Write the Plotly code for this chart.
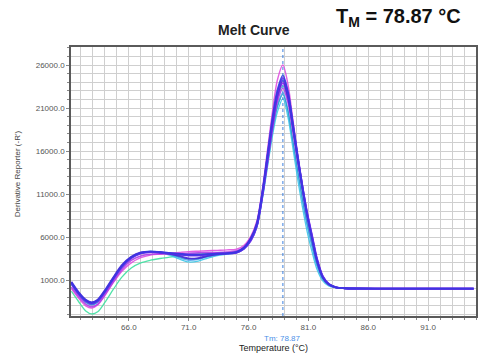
import plotly.graph_objects as go

# Temperature samples (°C)
temps = [61.2, 61.8, 62.4, 62.9, 63.4, 64.0, 64.7, 65.4, 66.2, 67.0, 67.8, 68.6, 69.4, 70.2,
         71.0, 71.8, 72.6, 73.4, 74.2, 75.0, 75.6, 76.2, 76.7, 77.2, 77.6, 78.0, 78.4, 78.87,
         79.3, 79.7, 80.1, 80.5, 80.9, 81.3, 81.7, 82.2, 82.7, 83.3, 84.0, 88.0, 94.8]

# Derivative reporter (-R') per well
green = [-300, -1500, -2600, -2950, -2700, -1600, -100, 1300, 2400, 3000, 3300, 3500, 3650, 3800,
         3950, 4050, 4100, 4100, 4150, 4300, 4700, 5700, 7300, 11200, 15000, 18800, 22000, 23600,
         21900, 18600, 15000, 11600, 8500, 5900, 3400, 1350, 500, 150, 50, 0, 0]
cyan = [500, -700, -1600, -1900, -1600, -500, 1000, 2400, 3500, 4100, 4300, 4200, 3900, 3450,
        3100, 3200, 3550, 3850, 4000, 4150, 4600, 5600, 7200, 10800, 14300, 17800, 20500, 22100,
        19900, 16400, 12800, 9500, 6600, 4300, 2300, 900, 300, 100, 30, 0, 0]
sky = [600, -600, -1500, -1800, -1500, -400, 1100, 2500, 3600, 4200, 4350, 4250, 4000, 3600,
       3300, 3400, 3700, 3900, 4050, 4200, 4650, 5700, 7300, 11100, 14800, 18500, 21300, 22800,
       20700, 17200, 13700, 10300, 7300, 4900, 2700, 1100, 400, 120, 40, 0, 0]
teal = [550, -650, -1550, -1850, -1550, -450, 1050, 2450, 3550, 4150, 4300, 4200, 4000, 3700,
        3450, 3500, 3750, 3950, 4050, 4200, 4600, 5600, 7200, 10900, 14600, 18300, 21100, 22600,
        20600, 17200, 13800, 10500, 7600, 5200, 2900, 1150, 420, 130, 40, 0, 0]
magenta = [0, -1100, -2000, -2250, -1900, -800, 700, 2000, 3000, 3600, 3900, 4000, 4100, 4200,
           4300, 4350, 4400, 4450, 4500, 4600, 5000, 6100, 7900, 12000, 16300, 20600, 24200, 26000,
           23700, 19700, 15600, 11800, 8500, 5800, 3300, 1300, 500, 150, 50, 0, 0]
orchid = [200, -900, -1800, -2100, -1800, -700, 800, 2200, 3300, 3800, 4000, 4050, 4050, 4050,
          4100, 4150, 4200, 4200, 4250, 4400, 4800, 5800, 7400, 11200, 14900, 18600, 21700, 23300,
          21600, 18300, 14800, 11500, 8400, 5900, 3400, 1350, 500, 150, 50, 0, 0]
purple = [650, -550, -1400, -1700, -1400, -350, 1150, 2550, 3600, 4100, 4250, 4200, 4100, 4000,
          3900, 3900, 4000, 4050, 4100, 4200, 4600, 5600, 7300, 11200, 15100, 19000, 22200, 23900,
          22200, 18900, 15300, 11900, 8800, 6200, 3600, 1450, 550, 150, 50, 0, 0]
indigo = [800, -400, -1300, -1600, -1300, -200, 1300, 2700, 3700, 4200, 4300, 4200, 4050, 3800,
          3500, 3550, 3800, 4000, 4100, 4250, 4750, 5900, 7600, 11500, 15400, 19300, 22500, 24200,
          22300, 18900, 15200, 11800, 8600, 6000, 3400, 1350, 500, 150, 50, 0, 0]
violet = [600, -600, -1450, -1750, -1450, -400, 1100, 2500, 3550, 4100, 4250, 4200, 4100, 4000,
          3850, 3850, 3950, 4050, 4100, 4200, 4650, 5700, 7400, 11400, 15500, 19500, 22700, 24500,
          22700, 19200, 15500, 11900, 8700, 6100, 3500, 1400, 550, 150, 50, 0, 0]
blue = [700, -500, -1350, -1650, -1350, -300, 1200, 2600, 3650, 4150, 4300, 4250, 4150, 4050,
        3950, 3950, 4000, 4050, 4100, 4250, 4700, 5800, 7500, 11600, 15700, 19800, 23000, 24800,
        22800, 19100, 15300, 11700, 8400, 5800, 3300, 1300, 500, 150, 50, 0, 0]

series = [
    (green, "#3ee0a0", 1.3),
    (cyan, "#3cc8e8", 1.3),
    (sky, "#5aa8f0", 1.3),
    (teal, "#2aa0d0", 1.3),
    (magenta, "#e050e0", 1.4),
    (orchid, "#b040e8", 1.6),
    (purple, "#8a2cf0", 1.9),
    (indigo, "#4a22d8", 1.9),
    (violet, "#6a2ef0", 1.9),
    (blue, "#3838e0", 1.9),
]

tm = 78.87
x_ticks = [66, 71, 76, 81, 86, 91]
y_ticks = [1000, 6000, 11000, 16000, 21000, 26000]

fig = go.Figure()
for vals, col, w in series:
    fig.add_trace(go.Scatter(x=temps, y=vals, mode="lines",
                             line=dict(color=col, width=w, shape="spline", smoothing=0.8),
                             opacity=0.9, showlegend=False, hoverinfo="skip"))

fig.add_shape(type="line", xref="x", yref="paper", x0=tm, x1=tm, y0=0, y1=1,
              line=dict(color="#3a7fe0", width=1, dash="dot"))

grid_col = "#cfcfcf"
tickfont = dict(family="Liberation Sans, Arial", size=8, color="#555")
fig.update_xaxes(range=[61.17, 95.0], tickvals=x_ticks, tickformat=".1f",
                 showgrid=True, gridcolor=grid_col, gridwidth=1.2,
                 minor=dict(dtick=1, tick0=61, showgrid=True, gridcolor=grid_col, gridwidth=1.2,
                            ticks="outside", ticklen=2, tickcolor="#888"),
                 ticks="outside", ticklen=3, tickcolor="#888",
                 showline=True, linecolor="#5a5a5a", linewidth=1.5, mirror=True,
                 zeroline=False, tickfont=tickfont)
fig.update_yaxes(range=[-3186, 28100], tickvals=y_ticks, tickformat=".1f",
                 showgrid=True, gridcolor=grid_col, gridwidth=1.2,
                 minor=dict(dtick=1000, tick0=0, showgrid=True, gridcolor=grid_col, gridwidth=1.2,
                            ticks="outside", ticklen=2, tickcolor="#888"),
                 ticks="outside", ticklen=3, tickcolor="#888",
                 showline=True, linecolor="#5a5a5a", linewidth=1.5, mirror=True,
                 zeroline=False, tickfont=tickfont)

fig.add_annotation(text="<b>Melt Curve</b>", xref="paper", yref="paper",
                   x=(255 - 71) / 407, y=1 + (47 - 30) / 269, showarrow=False,
                   font=dict(family="Liberation Sans, Arial", size=14, color="#222"),
                   xanchor="center", yanchor="middle")
fig.add_annotation(text="<b>T<sub>M</sub> = 78.87 °C</b>", xref="paper", yref="paper",
                   x=(465 - 71) / 407, y=1 + (47 - 17) / 269, showarrow=False,
                   font=dict(family="Liberation Sans, Arial", size=20, color="#111"),
                   xanchor="right", yanchor="middle")
fig.add_annotation(text="Derivative Reporter (-R')", xref="paper", yref="paper",
                   x=(17 - 71) / 407, y=(316 - 174) / 269, showarrow=False, textangle=-90,
                   font=dict(family="Liberation Sans, Arial", size=8, color="#444"),
                   xanchor="center", yanchor="middle")
fig.add_annotation(text="Tm: 78.87", xref="x", yref="paper",
                   x=tm, y=-(338 - 316) / 269, showarrow=False,
                   font=dict(family="Liberation Sans, Arial", size=8, color="#4a8fe8"),
                   xanchor="center", yanchor="middle")
fig.add_annotation(text="Temperature (°C)", xref="paper", yref="paper",
                   x=(274 - 71) / 407, y=-(348 - 316) / 269, showarrow=False,
                   font=dict(family="Liberation Sans, Arial", size=9, color="#222"),
                   xanchor="center", yanchor="middle")

fig.update_layout(width=480, height=356, margin=dict(l=71, r=2, t=47, b=40),
                  paper_bgcolor="white", plot_bgcolor="white")

fig.write_html("out.html")
